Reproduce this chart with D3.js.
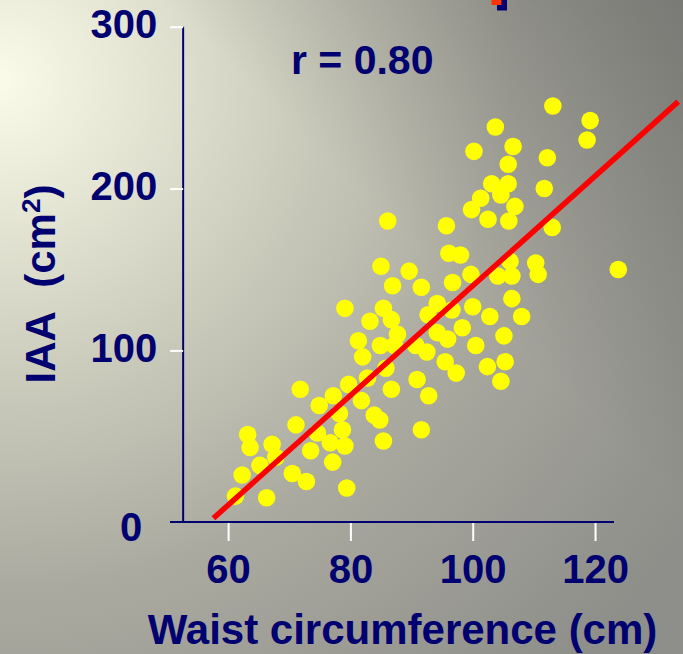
<!DOCTYPE html>
<html>
<head>
<meta charset="utf-8">
<script src="https://cdn.jsdelivr.net/npm/d3@7"></script>
<style>
    html, body { margin: 0; padding: 0; }
    body { width: 683px; height: 654px; overflow: hidden; }
    text { font-family: Arial, "Liberation Sans", sans-serif; font-weight: bold; fill: #000070; }
</style>
</head>
<body>
<div id="chart"></div>
<script>
// Waist circumference (cm) and IAA (cm2) for each subject
const waist = [
    113.1, 119.2, 118.7, 103.7, 100.2, 106.6, 112.2, 105.8, 103.1, 105.8,
    104.6, 101.3, 111.7, 99.8, 106.9, 102.5, 105.9, 95.7, 113.0, 86.1,
    96.1, 98.0, 106.1, 110.3, 110.7, 123.8, 85.0, 89.6, 86.9, 91.6,
    96.7, 99.7, 104.1, 106.4, 79.1, 85.4, 83.2, 86.7, 94.2, 96.6,
    92.7, 100.0, 102.8, 106.4, 108.0, 87.7, 81.3, 84.9, 87.2, 90.7,
    92.5, 94.2, 95.9, 98.3, 100.5, 105.1, 82.0, 85.8, 95.5, 97.3,
    102.4, 105.3, 104.6, 90.9, 71.8, 79.7, 82.8, 86.7, 92.8, 77.2,
    74.9, 81.8, 78.2, 83.9, 84.8, 91.6, 71.1, 74.6, 78.7, 63.2,
    85.4, 67.2, 76.7, 79.1, 63.6, 73.5, 67.8, 77.1, 65.2, 70.5,
    72.8, 62.3, 61.2, 79.4, 66.3
];
const iaa = [
    251, 242, 230, 238, 223, 226, 219, 215, 203, 203,
    196, 194, 200, 187, 189, 181, 180, 177, 176, 180,
    160, 159, 155, 154, 147, 150, 152, 149, 140, 139,
    142, 147, 146, 146, 126, 126, 118, 119, 129, 125,
    122, 127, 121, 132, 121, 110, 106, 103, 103, 103,
    99, 111, 107, 114, 103, 109, 96, 89, 93, 86,
    90, 93, 81, 82, 76, 79, 83, 76, 72, 72,
    66, 69, 61, 60, 57, 51, 54, 49, 51, 48,
    44, 42, 43, 41, 40, 38, 34, 31, 29, 24,
    19, 23, 10, 15, 9
];

// regression line end points
const fitWaist = [57.6, 133.6];
const fitIaa = [-3.7, 253.7];

const xTicks = [60, 80, 100, 120];
const yTicks = [100, 200, 300];
const rLabel = 'r = 0.80';

const W = 683, H = 654;
const navy = '#000070';

const svg = d3.select('#chart')
    .append('svg')
    .attr('width', W)
    .attr('height', H);

// slide background
const defs = svg.append('defs');
const bg = defs.append('radialGradient')
    .attr('id', 'bg')
    .attr('gradientUnits', 'userSpaceOnUse')
    .attr('cx', 0).attr('cy', 80).attr('r', 820);
bg.append('stop').attr('offset', 0).attr('stop-color', '#fbfbea');
bg.append('stop').attr('offset', 0.3).attr('stop-color', '#d4d4c4');
bg.append('stop').attr('offset', 0.62).attr('stop-color', '#aaaaa0');
bg.append('stop').attr('offset', 1).attr('stop-color', '#8e8e8a');

const shade = defs.append('linearGradient')
    .attr('id', 'shade')
    .attr('gradientUnits', 'userSpaceOnUse')
    .attr('x1', 683).attr('y1', 0).attr('x2', 430).attr('y2', 260);
shade.append('stop').attr('offset', 0).attr('stop-color', '#505050').attr('stop-opacity', 0.45);
shade.append('stop').attr('offset', 1).attr('stop-color', '#505050').attr('stop-opacity', 0);

svg.append('rect').attr('width', W).attr('height', H).attr('fill', 'url(#bg)');
svg.append('rect').attr('width', W).attr('height', H).attr('fill', 'url(#shade)');

// little cut-off shape at the top edge
svg.append('rect').attr('x', 497).attr('y', 0).attr('width', 10).attr('height', 10.5).attr('fill', navy);
svg.append('rect').attr('x', 491.5).attr('y', 0).attr('width', 10).attr('height', 5).attr('fill', '#ff3300');

// scales
const x = d3.scaleLinear().domain([50.5, 123.1]).range([170, 614]);
const y = d3.scaleLinear().domain([-6, 300]).range([522, 26.7]);
const axisX = 52.65;

// y axis
svg.append('line')
    .attr('x1', x(axisX)).attr('x2', x(axisX))
    .attr('y1', y(300)).attr('y2', y(-6))
    .attr('stroke', navy).attr('stroke-width', 2);

const yAxis = svg.append('g')
    .attr('transform', `translate(${x(axisX)},0)`)
    .call(d3.axisLeft(y).tickValues(yTicks).tickSize(13).tickPadding(13).tickFormat(d3.format('d')));
yAxis.select('.domain').remove();
yAxis.selectAll('line').attr('stroke', '#ffffff').attr('stroke-width', 2);
yAxis.selectAll('text')
    .attr('fill', navy)
    .attr('dy', null)
    .attr('y', 11)
    .style('font-size', '40px')
    .style('font-family', 'Arial, "Liberation Sans", sans-serif');

// zero label sits at the x axis
svg.append('text')
    .attr('x', x(axisX) - 41)
    .attr('y', y(-6) + 19)
    .attr('text-anchor', 'end')
    .style('font-size', '40px')
    .text('0');

// x axis
const xAxis = svg.append('g')
    .attr('transform', `translate(0,${y(-6)})`)
    .call(d3.axisBottom(x).tickValues(xTicks).tickSize(19).tickPadding(12).tickFormat(d3.format('d')));
xAxis.select('.domain').remove();
xAxis.selectAll('line').attr('stroke', '#ffffff').attr('stroke-width', 2);
xAxis.selectAll('text')
    .attr('fill', navy)
    .attr('dy', null)
    .attr('y', 61)
    .style('font-size', '40px')
    .style('font-family', 'Arial, "Liberation Sans", sans-serif');

svg.append('line')
    .attr('x1', x(50.5)).attr('x2', x(123.1))
    .attr('y1', y(-6)).attr('y2', y(-6))
    .attr('stroke', navy).attr('stroke-width', 2);

// points
const pts = waist.map((w, i) => ({ w: w, a: iaa[i] }));
svg.append('g')
    .selectAll('circle')
    .data(pts)
    .enter()
    .append('circle')
    .attr('cx', d => x(d.w))
    .attr('cy', d => y(d.a))
    .attr('r', 8.8)
    .attr('fill', '#ffff00');

// regression line
svg.append('line')
    .attr('x1', x(fitWaist[0])).attr('y1', y(fitIaa[0]))
    .attr('x2', x(fitWaist[1])).attr('y2', y(fitIaa[1]))
    .attr('stroke', '#ff0000')
    .attr('stroke-width', 5.5);

// labels
svg.append('text')
    .attr('x', 291)
    .attr('y', 74)
    .style('font-size', '41px')
    .text(rLabel);

svg.append('text')
    .attr('x', 402.5)
    .attr('y', 644)
    .attr('text-anchor', 'middle')
    .style('font-size', '42px')
    .text('Waist circumference (cm)');

const yTitle = svg.append('text')
    .attr('transform', 'translate(55,284) rotate(-90)')
    .attr('text-anchor', 'middle')
    .style('font-size', '42px');
yTitle.append('tspan').text('IAA\u00a0\u00a0(cm');
yTitle.append('tspan').attr('baseline-shift', 'super').style('font-size', '26px').text('2');
yTitle.append('tspan').text(')');
</script>
</body>
</html>
